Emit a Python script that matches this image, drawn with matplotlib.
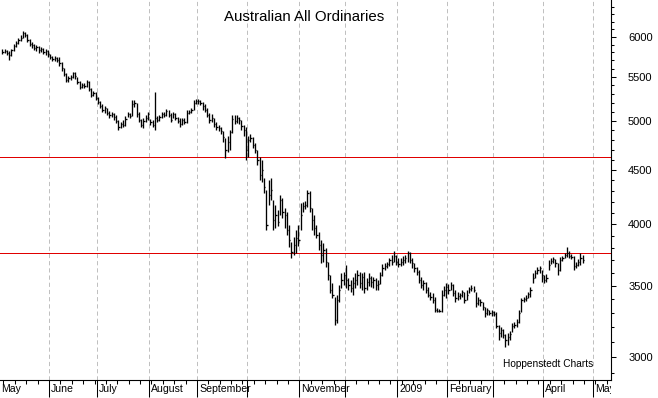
import numpy as np
import pandas as pd
import matplotlib
matplotlib.use("Agg")
import matplotlib.pyplot as plt
from matplotlib.collections import LineCollection
from matplotlib.ticker import FixedLocator, NullFormatter, FuncFormatter
from matplotlib.transforms import Bbox, TransformedBbox, offset_copy

plt.rcParams['font.family'] = ['Liberation Sans', 'DejaVu Sans']

title = "Australian All Ordinaries"
credit = "Hoppenstedt Charts"
first_day = "2008-05-02"
month_labels = ["May", "June", "July", "August", "September", "", "November",
                "", "2009", "February", "", "April", "May"]
y_ticks = [3000, 3500, 4000, 4500, 5000, 5500, 6000]
levels = [4622, 3755]

# daily close / high / low
close = [5806, 5819, 5793, 5768, 5831, 5881, 5920, 5958, 5984, 6049,
         6023, 5958, 5907, 5894, 5856, 5869, 5831, 5844, 5806, 5819,
         5781, 5743, 5718, 5731, 5706, 5669, 5608, 5536, 5465, 5489,
         5500, 5548, 5512, 5441, 5383, 5406, 5394, 5441, 5360, 5290,
         5313, 5256, 5210, 5165, 5120, 5143, 5087, 5065, 5076, 5043,
         5000, 4936, 4968, 4957, 5022, 5076, 5054, 5188, 5199, 5076,
         5011, 4957, 5000, 5033, 5076, 4989, 4957, 5033, 5011, 5043,
         5076, 5065, 5109, 5065, 5011, 5076, 5033, 5000, 4968, 5011,
         4989, 5087, 5098, 5120, 5199, 5222, 5222, 5199, 5165, 5120,
         5065, 5011, 5033, 4968, 4936, 4925, 4893, 4830, 4696, 4778,
         4883, 5022, 5000, 5033, 5011, 4946, 4904, 4696, 4799, 4820,
         4747, 4696, 4595, 4449, 4497, 4335, 3992, 4260, 4307, 4036,
         4080, 4018, 4214, 4106, 4080, 3949, 3865, 3766, 3823, 3882,
         3865, 4080, 4160, 4169, 4279, 4142, 4036, 3966, 3907, 3823,
         3741, 3782, 3685, 3583, 3469, 3431, 3251, 3394, 3469, 3545,
         3583, 3545, 3506, 3484, 3522, 3545, 3583, 3522, 3568, 3484,
         3530, 3560, 3530, 3545, 3506, 3514, 3583, 3637, 3653, 3669,
         3701, 3685, 3733, 3685, 3669, 3685, 3701, 3717, 3757, 3701,
         3677, 3637, 3606, 3545, 3506, 3522, 3469, 3431, 3416, 3394,
         3322, 3315, 3315, 3431, 3469, 3491, 3469, 3506, 3446, 3409,
         3424, 3431, 3454, 3394, 3431, 3477, 3484, 3469, 3372, 3394,
         3380, 3344, 3300, 3322, 3300, 3308, 3293, 3209, 3160, 3181,
         3146, 3113, 3133, 3153, 3209, 3216, 3237, 3300, 3394, 3401,
         3409, 3439, 3469, 3560, 3598, 3622, 3637, 3583, 3545, 3560,
         3661, 3693, 3709, 3677, 3622, 3701, 3717, 3741, 3757, 3733,
         3725, 3653, 3661, 3685, 3717, 3701]

high = [5844, 5844, 5831, 5819, 5844, 5907, 5945, 5984, 6023, 6076,
        6063, 6036, 5971, 5932, 5907, 5894, 5881, 5869, 5856, 5844,
        5831, 5781, 5756, 5756, 5743, 5743, 5682, 5608, 5548, 5512,
        5524, 5560, 5560, 5500, 5453, 5430, 5430, 5465, 5453, 5371,
        5336, 5325, 5267, 5222, 5188, 5165, 5143, 5109, 5098, 5087,
        5065, 5011, 4989, 5011, 5054, 5098, 5087, 5233, 5233, 5199,
        5098, 5022, 5033, 5065, 5098, 5022, 5011, 5325, 5054, 5065,
        5098, 5098, 5131, 5120, 5087, 5098, 5087, 5043, 5033, 5033,
        5033, 5120, 5120, 5143, 5233, 5244, 5244, 5233, 5210, 5188,
        5143, 5087, 5076, 5033, 4989, 4957, 4936, 4893, 4820, 4841,
        4904, 5065, 5065, 5065, 5043, 5011, 4957, 4936, 4841, 4862,
        4830, 4768, 4696, 4625, 4595, 4420, 4307, 4401, 4420, 4214,
        4169, 4124, 4260, 4232, 4142, 4106, 3992, 3848, 3890, 3949,
        3992, 4187, 4196, 4205, 4307, 4298, 4142, 4080, 3992, 3932,
        3865, 3840, 3798, 3685, 3583, 3522, 3416, 3431, 3506, 3598,
        3606, 3661, 3560, 3545, 3568, 3598, 3622, 3606, 3598, 3606,
        3560, 3598, 3575, 3568, 3560, 3545, 3606, 3669, 3677, 3685,
        3717, 3741, 3774, 3741, 3717, 3717, 3733, 3741, 3774, 3766,
        3717, 3677, 3645, 3622, 3568, 3545, 3530, 3491, 3454, 3446,
        3416, 3336, 3329, 3469, 3499, 3522, 3514, 3530, 3514, 3469,
        3454, 3446, 3469, 3454, 3469, 3491, 3506, 3499, 3454, 3416,
        3401, 3380, 3344, 3336, 3322, 3322, 3315, 3308, 3216, 3202,
        3188, 3153, 3160, 3174, 3230, 3237, 3258, 3322, 3409, 3416,
        3431, 3454, 3491, 3598, 3622, 3645, 3653, 3622, 3583, 3591,
        3701, 3717, 3725, 3709, 3677, 3725, 3733, 3757, 3807, 3774,
        3749, 3733, 3685, 3709, 3757, 3741]

low = [5781, 5793, 5768, 5706, 5756, 5819, 5869, 5907, 5945, 5984,
       5997, 5932, 5881, 5856, 5831, 5819, 5793, 5806, 5781, 5768,
       5743, 5718, 5694, 5694, 5682, 5633, 5572, 5512, 5441, 5441,
       5465, 5489, 5477, 5418, 5360, 5371, 5371, 5383, 5336, 5267,
       5279, 5233, 5188, 5143, 5098, 5087, 5065, 5033, 5043, 5011,
       4979, 4904, 4925, 4936, 4946, 5043, 5033, 5054, 5154, 5043,
       4989, 4936, 4925, 4989, 5011, 4957, 4936, 4904, 4989, 5000,
       5033, 5043, 5054, 5043, 4989, 5033, 5011, 4979, 4936, 4957,
       4968, 4979, 5076, 5087, 5120, 5188, 5188, 5176, 5120, 5098,
       5043, 4979, 4989, 4936, 4904, 4893, 4862, 4778, 4615, 4676,
       4696, 4872, 4968, 4979, 4968, 4904, 4841, 4595, 4625, 4778,
       4716, 4665, 4546, 4401, 4382, 4279, 3949, 4169, 4214, 3949,
       3966, 3983, 4080, 4054, 3966, 3907, 3807, 3717, 3741, 3757,
       3815, 3949, 4106, 4133, 4151, 4106, 3949, 3907, 3882, 3782,
       3677, 3685, 3645, 3545, 3446, 3409, 3216, 3230, 3380, 3484,
       3506, 3484, 3469, 3454, 3431, 3484, 3506, 3484, 3469, 3446,
       3469, 3499, 3491, 3484, 3469, 3469, 3514, 3575, 3622, 3637,
       3653, 3661, 3685, 3661, 3645, 3653, 3661, 3677, 3685, 3677,
       3637, 3606, 3583, 3522, 3484, 3469, 3446, 3416, 3394, 3372,
       3308, 3308, 3308, 3308, 3424, 3409, 3439, 3469, 3424, 3380,
       3394, 3401, 3416, 3372, 3394, 3446, 3461, 3454, 3344, 3358,
       3351, 3322, 3272, 3286, 3286, 3279, 3279, 3195, 3113, 3133,
       3126, 3066, 3079, 3113, 3167, 3195, 3202, 3230, 3308, 3380,
       3387, 3409, 3416, 3522, 3560, 3591, 3598, 3530, 3522, 3530,
       3622, 3669, 3677, 3645, 3583, 3614, 3693, 3717, 3725, 3717,
       3709, 3622, 3637, 3653, 3661, 3677]

# trading-day axis (weekdays)
days = pd.bdate_range("2008-05-01", "2009-05-29")
pos = {d: i for i, d in enumerate(days)}
dates = pd.bdate_range(first_day, periods=len(close))
x = np.array([pos[d] for d in dates], dtype=float)

months = pd.date_range("2008-05-01", "2009-05-01", freq="MS")
seps = [days.searchsorted(m) - 0.5 for m in months]
mondays = [i - 0.5 for i, d in enumerate(days) if d.weekday() == 0]

fig = plt.figure(figsize=(6.58, 3.98), dpi=100)
ax = fig.add_axes([0, 18 / 398, 611 / 658, 380 / 398])
ax.set_yscale('log')
ax.set_ylim(2854, 6497)
ax.set_xlim(-0.03, 268.4)

# month separators
for s in seps[1:]:
    ax.axvline(s, color='#c0c0c0', lw=0.72, ls=(0, (4.2, 3.0)), zorder=0)

for v in levels:
    ax.axhline(v, color='#e00000', lw=0.72, zorder=1)

# HLC bars
segs = [[(xi, lo), (xi, hi)] for xi, lo, hi in zip(x, low, high)]
segs += [[(xi, c), (xi + 0.55, c)] for xi, c in zip(x, close)]
ax.add_collection(LineCollection(segs, colors='black', linewidths=0.95, zorder=2))

for side in ['top', 'left']:
    ax.spines[side].set_visible(False)
for side in ['right', 'bottom']:
    ax.spines[side].set_linewidth(0.8)

# y axis on right
ax.yaxis.tick_right()
ax.yaxis.set_major_locator(FixedLocator(y_ticks))
ax.yaxis.set_major_formatter(FuncFormatter(lambda v, p: f"{v:.0f}"))
ax.yaxis.set_minor_locator(FixedLocator(np.arange(2900, 6500, 100)))
ax.yaxis.set_minor_formatter(NullFormatter())
ax.tick_params(axis='y', which='major', length=3.8, width=0.75, pad=8.5, labelsize=8)
ax.tick_params(axis='y', which='minor', length=2.2, width=0.75)

# x axis: month lines and weekly ticks
ax.xaxis.set_major_locator(FixedLocator(seps))
ax.xaxis.set_major_formatter(NullFormatter())
ax.xaxis.set_minor_locator(FixedLocator([m for m in mondays if m not in seps]))
ax.tick_params(axis='x', which='major', length=12.5, width=0.75)
ax.tick_params(axis='x', which='minor', length=2.8, width=0.75)

clip = TransformedBbox(Bbox([[0, -1], [1, 1]]), ax.transAxes)
lab_tr = offset_copy(ax.get_xaxis_transform(), fig=fig, x=1.6, y=-3.0, units='points')
for s, lab in zip(seps, month_labels):
    t = ax.text(s, 0, lab, transform=lab_tr, ha='left', va='top', fontsize=7.6)
    t.set_clip_box(clip)
    t.set_clip_on(True)

fig.text(304.5 / 658, 1 - 17 / 398, title, ha='center', va='center', fontsize=10.8)
fig.text(503 / 658, 1 - 364 / 398, credit, ha='left', va='center', fontsize=7.3)

fig.savefig("out.png", dpi=100)
